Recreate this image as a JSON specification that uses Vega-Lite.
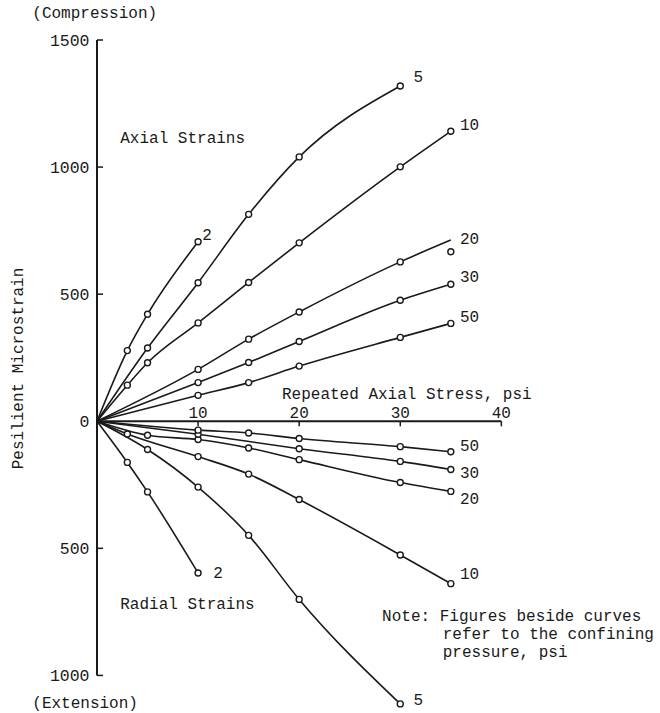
{
  "$schema": "https://vega.github.io/schema/vega-lite/v6.json",
  "width": 556,
  "height": 671,
  "autosize": {"type": "none"},
  "padding": {"left": 97, "top": 40, "right": 7, "bottom": 2},
  "background": "white",
  "config": {
    "view": {"stroke": null},
    "font": "Liberation Mono",
    "text": {"font": "Liberation Mono", "fontSize": 16, "color": "#1a1a1a"}
  },
  "datasets": {
    "curves": [
      {"strain": "Axial", "cp": 2, "x": 0, "y": 0, "kind": "origin"},
      {"strain": "Axial", "cp": 2, "x": 3, "y": 278, "kind": "measured"},
      {"strain": "Axial", "cp": 2, "x": 5, "y": 421, "kind": "measured"},
      {"strain": "Axial", "cp": 2, "x": 10, "y": 706, "kind": "measured"},

      {"strain": "Axial", "cp": 5, "x": 0, "y": 0, "kind": "origin"},
      {"strain": "Axial", "cp": 5, "x": 5, "y": 288, "kind": "measured"},
      {"strain": "Axial", "cp": 5, "x": 10, "y": 545, "kind": "measured"},
      {"strain": "Axial", "cp": 5, "x": 15, "y": 814, "kind": "measured"},
      {"strain": "Axial", "cp": 5, "x": 20, "y": 1040, "kind": "measured"},
      {"strain": "Axial", "cp": 5, "x": 30, "y": 1319, "kind": "measured"},

      {"strain": "Axial", "cp": 10, "x": 0, "y": 0, "kind": "origin"},
      {"strain": "Axial", "cp": 10, "x": 3, "y": 142, "kind": "measured"},
      {"strain": "Axial", "cp": 10, "x": 5, "y": 230, "kind": "measured"},
      {"strain": "Axial", "cp": 10, "x": 10, "y": 387, "kind": "measured"},
      {"strain": "Axial", "cp": 10, "x": 15, "y": 546, "kind": "measured"},
      {"strain": "Axial", "cp": 10, "x": 20, "y": 702, "kind": "measured"},
      {"strain": "Axial", "cp": 10, "x": 30, "y": 1001, "kind": "measured"},
      {"strain": "Axial", "cp": 10, "x": 35, "y": 1141, "kind": "measured"},

      {"strain": "Axial", "cp": 20, "x": 0, "y": 0, "kind": "origin"},
      {"strain": "Axial", "cp": 20, "x": 10, "y": 204, "kind": "measured"},
      {"strain": "Axial", "cp": 20, "x": 15, "y": 323, "kind": "measured"},
      {"strain": "Axial", "cp": 20, "x": 20, "y": 430, "kind": "measured"},
      {"strain": "Axial", "cp": 20, "x": 30, "y": 627, "kind": "measured"},
      {"strain": "Axial", "cp": 20, "x": 35, "y": 713, "kind": "end"},
      {"strain": "Axial", "cp": 20, "x": 35, "y": 667, "kind": "unlinked"},

      {"strain": "Axial", "cp": 30, "x": 0, "y": 0, "kind": "origin"},
      {"strain": "Axial", "cp": 30, "x": 10, "y": 152, "kind": "measured"},
      {"strain": "Axial", "cp": 30, "x": 15, "y": 231, "kind": "measured"},
      {"strain": "Axial", "cp": 30, "x": 20, "y": 314, "kind": "measured"},
      {"strain": "Axial", "cp": 30, "x": 30, "y": 476, "kind": "measured"},
      {"strain": "Axial", "cp": 30, "x": 35, "y": 539, "kind": "measured"},

      {"strain": "Axial", "cp": 50, "x": 0, "y": 0, "kind": "origin"},
      {"strain": "Axial", "cp": 50, "x": 10, "y": 102, "kind": "measured"},
      {"strain": "Axial", "cp": 50, "x": 15, "y": 152, "kind": "measured"},
      {"strain": "Axial", "cp": 50, "x": 20, "y": 217, "kind": "measured"},
      {"strain": "Axial", "cp": 50, "x": 30, "y": 330, "kind": "measured"},
      {"strain": "Axial", "cp": 50, "x": 35, "y": 385, "kind": "measured"},

      {"strain": "Radial", "cp": 2, "x": 0, "y": 0, "kind": "origin"},
      {"strain": "Radial", "cp": 2, "x": 3, "y": -162, "kind": "measured"},
      {"strain": "Radial", "cp": 2, "x": 5, "y": -278, "kind": "measured"},
      {"strain": "Radial", "cp": 2, "x": 10, "y": -597, "kind": "measured"},

      {"strain": "Radial", "cp": 5, "x": 0, "y": 0, "kind": "origin"},
      {"strain": "Radial", "cp": 5, "x": 5, "y": -111, "kind": "measured"},
      {"strain": "Radial", "cp": 5, "x": 10, "y": -259, "kind": "measured"},
      {"strain": "Radial", "cp": 5, "x": 15, "y": -449, "kind": "measured"},
      {"strain": "Radial", "cp": 5, "x": 20, "y": -701, "kind": "measured"},
      {"strain": "Radial", "cp": 5, "x": 30, "y": -1112, "kind": "measured"},

      {"strain": "Radial", "cp": 10, "x": 0, "y": 0, "kind": "origin"},
      {"strain": "Radial", "cp": 10, "x": 3, "y": -50, "kind": "measured"},
      {"strain": "Radial", "cp": 10, "x": 10, "y": -139, "kind": "measured"},
      {"strain": "Radial", "cp": 10, "x": 15, "y": -208, "kind": "measured"},
      {"strain": "Radial", "cp": 10, "x": 20, "y": -308, "kind": "measured"},
      {"strain": "Radial", "cp": 10, "x": 30, "y": -526, "kind": "measured"},
      {"strain": "Radial", "cp": 10, "x": 35, "y": -639, "kind": "measured"},

      {"strain": "Radial", "cp": 20, "x": 0, "y": 0, "kind": "origin"},
      {"strain": "Radial", "cp": 20, "x": 5, "y": -55, "kind": "measured"},
      {"strain": "Radial", "cp": 20, "x": 10, "y": -72, "kind": "measured"},
      {"strain": "Radial", "cp": 20, "x": 15, "y": -105, "kind": "measured"},
      {"strain": "Radial", "cp": 20, "x": 20, "y": -151, "kind": "measured"},
      {"strain": "Radial", "cp": 20, "x": 30, "y": -241, "kind": "measured"},
      {"strain": "Radial", "cp": 20, "x": 35, "y": -276, "kind": "measured"},

      {"strain": "Radial", "cp": 30, "x": 0, "y": 0, "kind": "origin"},
      {"strain": "Radial", "cp": 30, "x": 10, "y": -51, "kind": "measured"},
      {"strain": "Radial", "cp": 30, "x": 20, "y": -108, "kind": "measured"},
      {"strain": "Radial", "cp": 30, "x": 30, "y": -158, "kind": "measured"},
      {"strain": "Radial", "cp": 30, "x": 35, "y": -190, "kind": "measured"},

      {"strain": "Radial", "cp": 50, "x": 0, "y": 0, "kind": "origin"},
      {"strain": "Radial", "cp": 50, "x": 10, "y": -35, "kind": "measured"},
      {"strain": "Radial", "cp": 50, "x": 15, "y": -46, "kind": "measured"},
      {"strain": "Radial", "cp": 50, "x": 20, "y": -68, "kind": "measured"},
      {"strain": "Radial", "cp": 50, "x": 30, "y": -100, "kind": "measured"},
      {"strain": "Radial", "cp": 50, "x": 35, "y": -120, "kind": "measured"}
    ],
    "axisLines": [
      {"x": 0, "x2": 0, "y": -1000, "y2": 1500},
      {"x": 0, "x2": 40, "y": 0, "y2": 0}
    ],
    "ticks": [
      {"x": 0, "x2": 0.6, "y": 1500, "y2": 1500},
      {"x": 0, "x2": 0.6, "y": 1000, "y2": 1000},
      {"x": 0, "x2": 0.6, "y": 500, "y2": 500},
      {"x": 0, "x2": 0.6, "y": -500, "y2": -500},
      {"x": 0, "x2": 0.6, "y": -1000, "y2": -1000},
      {"x": 10, "x2": 10, "y": 0, "y2": -20},
      {"x": 20, "x2": 20, "y": 0, "y2": -20},
      {"x": 30, "x2": 30, "y": 0, "y2": -20},
      {"x": 40, "x2": 40, "y": 0, "y2": -20}
    ],
    "stressTicks": [
      {"text": "10", "x": 10, "y": 34},
      {"text": "20", "x": 20, "y": 34},
      {"text": "30", "x": 30, "y": 34},
      {"text": "40", "x": 40, "y": 34}
    ],
    "notes": [
      {"text": "(Compression)", "x": -6.4, "y": 1606},
      {"text": "(Extension)", "x": -6.4, "y": -1110},
      {"text": "Axial Strains", "x": 2.3, "y": 1114},
      {"text": "Radial Strains", "x": 2.3, "y": -720},
      {"text": "Repeated Axial Stress, psi", "x": 18.3, "y": 106},
      {"text": "Note: Figures beside curves", "x": 28.2, "y": -768},
      {"text": "refer to the confining", "x": 34.2, "y": -838},
      {"text": "pressure, psi", "x": 34.2, "y": -908},
      {"text": "2", "x": 10.4, "y": 732},
      {"text": "5", "x": 31.3, "y": 1354},
      {"text": "10", "x": 35.9, "y": 1165},
      {"text": "20", "x": 35.9, "y": 717},
      {"text": "30", "x": 35.9, "y": 567},
      {"text": "50", "x": 35.9, "y": 409},
      {"text": "50", "x": 35.9, "y": -98},
      {"text": "30", "x": 35.9, "y": -205},
      {"text": "20", "x": 35.9, "y": -307},
      {"text": "10", "x": 35.9, "y": -602},
      {"text": "2", "x": 11.5, "y": -598},
      {"text": "5", "x": 31.3, "y": -1098}
    ]
  },
  "encoding": {
    "x": {
      "field": "x",
      "type": "quantitative",
      "scale": {"domain": [0, 55], "nice": false, "zero": false},
      "axis": null
    },
    "y": {
      "field": "y",
      "type": "quantitative",
      "scale": {"domain": [-1140, 1500], "nice": false, "zero": false},
      "axis": {
        "values": [-1000, -500, 0, 500, 1000, 1500],
        "labelExpr": "abs(datum.value)",
        "domain": false,
        "ticks": false,
        "grid": false,
        "labelFont": "Liberation Mono",
        "labelFontSize": 16.5,
        "labelColor": "#1a1a1a",
        "labelPadding": 8,
        "title": "Pesilient Microstrain",
        "titleFont": "Liberation Mono",
        "titleFontSize": 16,
        "titleFontWeight": "normal",
        "titleColor": "#1a1a1a",
        "titleAngle": -90,
        "titleAlign": "center",
        "titleBaseline": "middle",
        "titleX": -80,
        "titleY": 328
      }
    }
  },
  "layer": [
    {
      "data": {"name": "axisLines"},
      "mark": {"type": "rule", "color": "#1a1a1a", "strokeWidth": 2},
      "encoding": {"x2": {"field": "x2"}, "y2": {"field": "y2"}}
    },
    {
      "data": {"name": "ticks"},
      "mark": {"type": "rule", "color": "#1a1a1a", "strokeWidth": 1.5},
      "encoding": {"x2": {"field": "x2"}, "y2": {"field": "y2"}}
    },
    {
      "data": {"name": "curves"},
      "transform": [{"filter": "datum.kind !== 'unlinked'"}],
      "mark": {"type": "line", "interpolate": "monotone", "color": "#1a1a1a", "strokeWidth": 1.6},
      "encoding": {
        "detail": [{"field": "strain"}, {"field": "cp"}],
        "order": {"field": "x", "type": "quantitative"}
      }
    },
    {
      "data": {"name": "curves"},
      "transform": [{"filter": "datum.kind === 'measured' || datum.kind === 'unlinked'"}],
      "mark": {"type": "point", "shape": "circle", "filled": true, "fill": "white", "stroke": "#1a1a1a", "strokeWidth": 1.4, "size": 36, "opacity": 1}
    },
    {
      "data": {"name": "stressTicks"},
      "mark": {"type": "text", "align": "center", "baseline": "middle"},
      "encoding": {"text": {"field": "text"}}
    },
    {
      "data": {"name": "notes"},
      "mark": {"type": "text", "align": "left", "baseline": "middle"},
      "encoding": {"text": {"field": "text"}}
    }
  ]
}
